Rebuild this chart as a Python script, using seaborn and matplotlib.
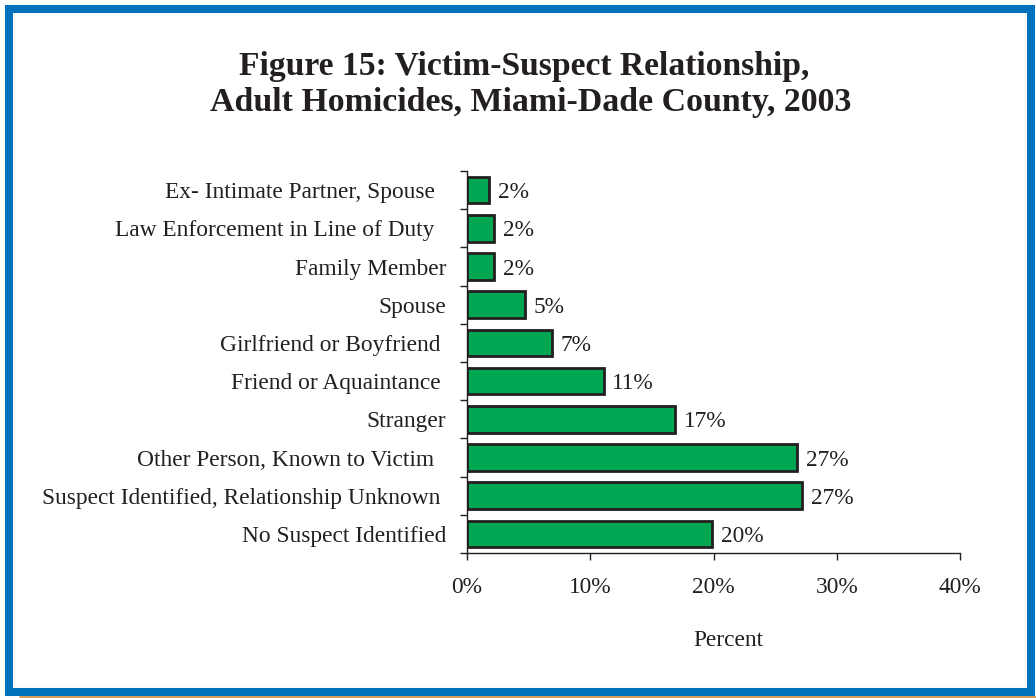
import matplotlib
matplotlib.use("Agg")
import matplotlib.pyplot as plt
from matplotlib.patches import Rectangle
from matplotlib.lines import Line2D
import seaborn as sns
import pandas as pd

categories = [
    "Ex- Intimate Partner, Spouse  ",
    "Law Enforcement in Line of Duty  ",
    "Family Member",
    "Spouse",
    "Girlfriend or Boyfriend ",
    "Friend or Aquaintance ",
    "Stranger",
    "Other Person, Known to Victim  ",
    "Suspect Identified, Relationship Unknown ",
    "No Suspect Identified",
]
percent = [1.8, 2.2, 2.2, 4.7, 6.9, 11.1, 16.9, 26.8, 27.2, 19.9]
x_ticks = [0, 10, 20, 30, 40]

df = pd.DataFrame({"category": categories, "percent": percent})

sns.set_style("white")
plt.rcParams["font.family"] = ["Liberation Serif", "DejaVu Serif"]
plt.rcParams["xtick.bottom"] = True
plt.rcParams["ytick.left"] = True

FS = 16.8
INK = "#231F20"

fig = plt.figure(figsize=(10.36, 6.98), dpi=100)
ax = fig.add_axes([0.4508, 0.2077, 0.4759, 0.5473])

sns.barplot(data=df, x="percent", y="category", orient="h", color="#00A651",
            saturation=1, width=0.7, edgecolor=INK, linewidth=2.0, ax=ax)

for i, v in enumerate(percent):
    ax.text(v + 0.7, i, f"{round(v)}%", va="center_baseline", ha="left",
            fontsize=FS, color=INK)

ax.set_xlim(0, 40)
ax.set_ylim(9.5, -0.5)
ax.set_xticks(x_ticks)
ax.set_xticklabels([f"{t}%" for t in x_ticks], fontsize=FS, color=INK)
ax.set_yticks([i - 0.5 for i in range(11)], minor=True)
ax.set_yticks(range(len(categories)))
ax.set_yticklabels(categories, fontsize=FS, color=INK)
ax.tick_params(axis="y", which="major", left=False, length=0, pad=15)
ax.tick_params(axis="y", which="minor", left=True, length=5, width=1, color=INK, direction="out")
ax.tick_params(axis="x", bottom=True, length=5, width=1, color=INK, direction="out", pad=12)
ax.set_xlabel("")
ax.set_ylabel("")
for side in ["top", "right"]:
    ax.spines[side].set_visible(False)
for side in ["left", "bottom"]:
    ax.spines[side].set_color(INK)
    ax.spines[side].set_linewidth(1)

fig.text(728 / 1036, 1 - 640 / 698, "Percent", ha="center", va="center",
         fontsize=FS, color=INK)

fig.text(524 / 1036, 1 - 66 / 698, "Figure 15: Victim-Suspect Relationship,",
         ha="center", va="center", fontsize=24.2, fontweight="bold", color=INK)
fig.text(531 / 1036, 1 - 102 / 698, "Adult Homicides, Miami-Dade County, 2003",
         ha="center", va="center", fontsize=24.4, fontweight="bold", color=INK)

# blue frame around the figure
fig.patches.append(Rectangle((9 / 1036, 1 - 692 / 698), (1031 - 9) / 1036, (692 - 9) / 698,
                             transform=fig.transFigure, fill=False,
                             edgecolor="#0072BC", linewidth=5.8, zorder=10))
fig.lines.append(Line2D([20 / 1036, 1.0], [0.6 / 698, 0.6 / 698], transform=fig.transFigure,
                        color="#D08A3A", linewidth=1.2))

fig.savefig("out.png", dpi=100, facecolor="white")
